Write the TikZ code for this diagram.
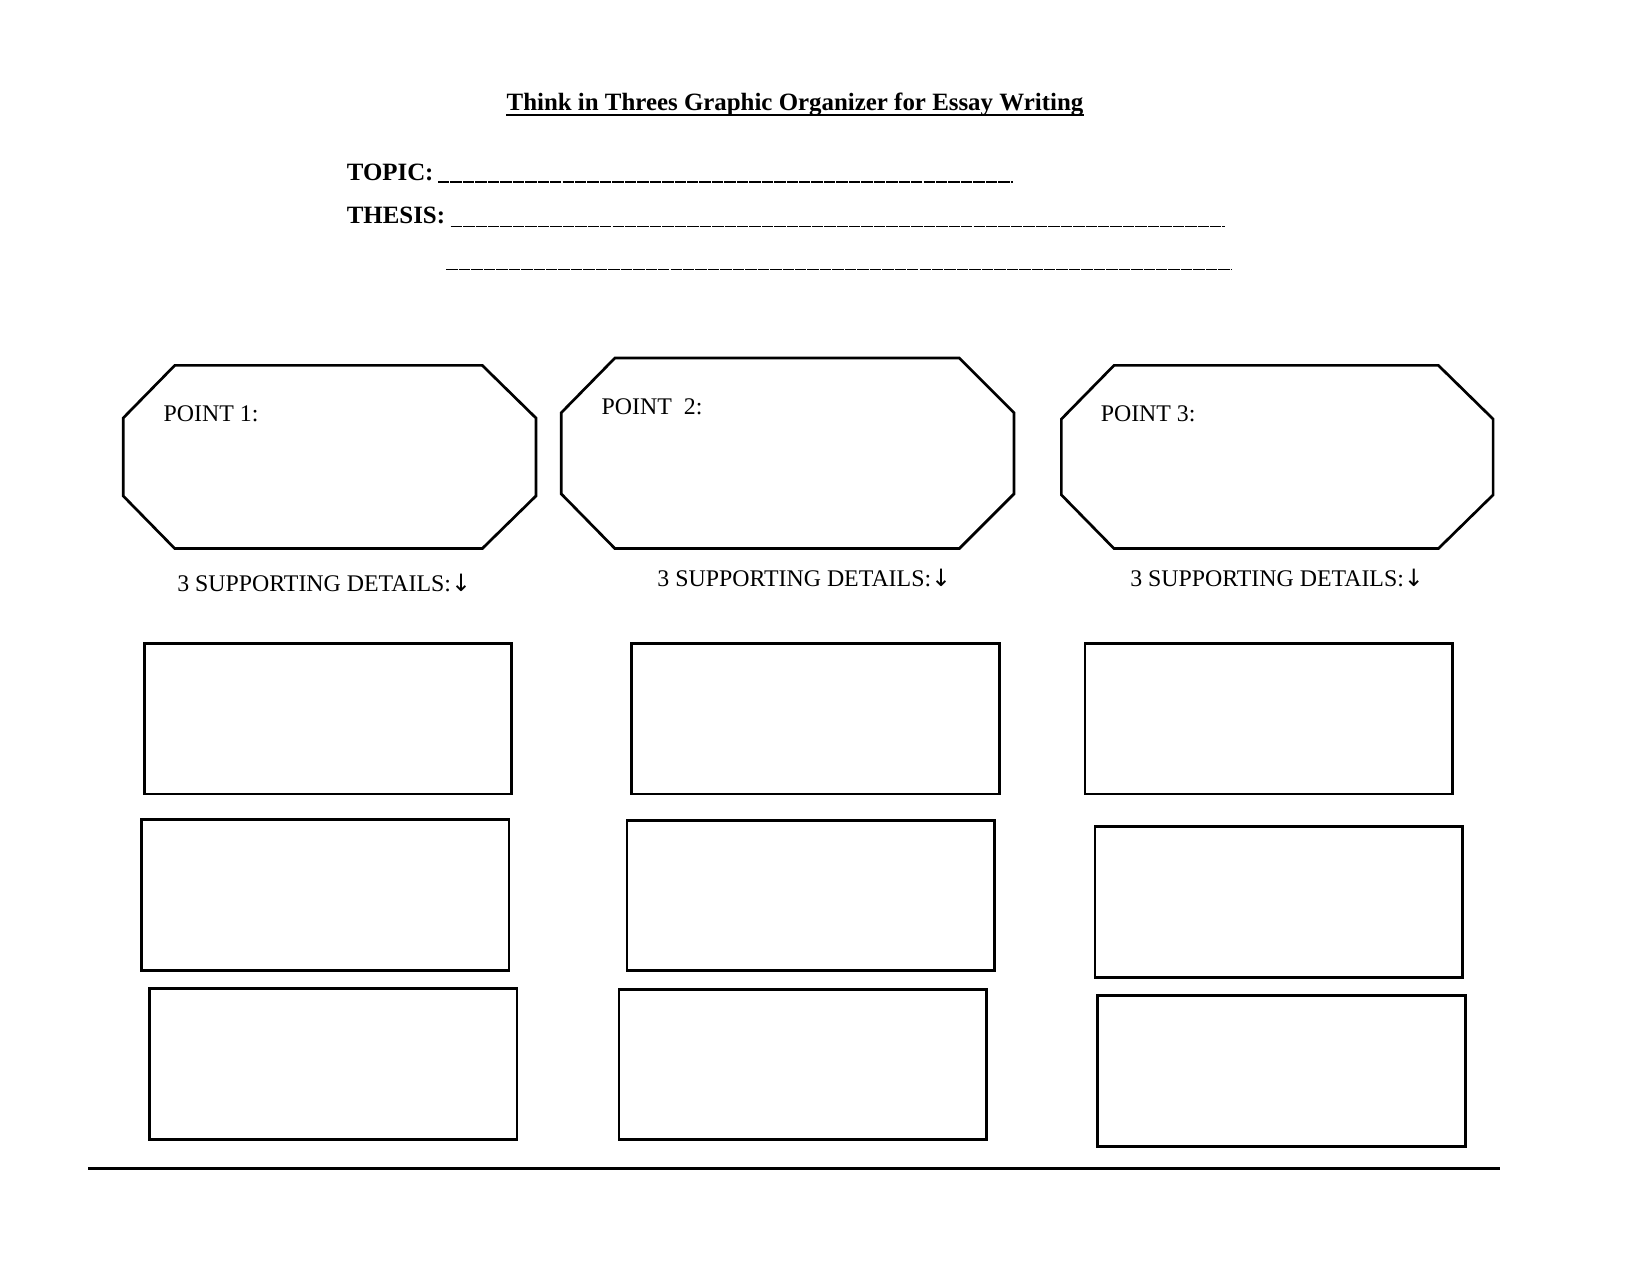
\documentclass[tikz,border=0pt]{standalone}
\usepackage{fontspec}
\setmainfont{Liberation Serif}
\newfontfamily\arrowfont{DejaVu Sans}
\usetikzlibrary{positioning}
%
\newlength\pagepx% ein Bildpunkt der Vorlage
\setlength\pagepx{0.017830cm}
%
\begin{document}
\begin{tikzpicture}[
	x=\pagepx,
	y=-\pagepx,
	auto,
	node distance=20\pagepx,
	headlabel/.style={inner sep=0pt, font=\fontsize{12}{14}\selectfont\bfseries},
	pointlabel/.style={inner sep=0pt, anchor=base west, font=\fontsize{11.5}{14}\selectfont},
	pointbox/.style={draw, line width=1.3pt, line join=miter},
	detailbox/.style={draw, line width=1.3pt, inner sep=0pt, outer sep=0pt,
		minimum width=349\pagepx, minimum height=143\pagepx},
	blankline/.style={line width=0.8pt, dash pattern=on 5.5pt off 0.5pt}
]
\useasboundingbox (0,0) rectangle (1567,1211);
%
% Ueberschrift
\node(title)%
    [headlabel, anchor=base]%
    at (755,105) {Think in Threes Graphic Organizer for Essay Writing};%
\draw[line width=1pt] ([yshift=-2.2pt]title.base west) -- ([yshift=-2.2pt]title.base east);
%
\node(topic)%
    [headlabel, anchor=base west]%
    at (329,171) {TOPIC:};%
\draw[blankline] (416,173) -- (962,173);
\node(thesis)%
    [headlabel, anchor=base west]%
    at (329,212) {THESIS:};%
\draw[blankline] (428,215) -- (1163,215);
\draw[blankline] (424,256) -- (1170,256);
%
% Achtecke
\draw[pointbox] (117,397) -- (166,347) -- (458,347) -- (509,397)
    -- (509,471) -- (458,521) -- (166,521) -- (117,471) -- cycle;
\draw[pointbox] (533,392) -- (584,340) -- (911,340) -- (963,392)
    -- (963,469) -- (911,521) -- (584,521) -- (533,469) -- cycle;
\draw[pointbox] (1008,398) -- (1058,347) -- (1366,347) -- (1418,398)
    -- (1418,470) -- (1366,521) -- (1058,521) -- (1008,470) -- cycle;
%
\node(p_1)%
    [pointlabel]%
    at (155,400) {POINT 1:};%
\node(p_2)%
    [pointlabel]%
    at (571,394) {POINT\ \ 2:};%
\node(p_3)%
    [pointlabel]%
    at (1045,400) {POINT 3:};%
%
\node(s_1)%
    [pointlabel]%
    at (168,562) {3 SUPPORTING DETAILS:{\arrowfont ↓}};%
\node(s_2)%
    [pointlabel]%
    at (624,557) {3 SUPPORTING DETAILS:{\arrowfont ↓}};%
\node(s_3)%
    [pointlabel]%
    at (1073,557) {3 SUPPORTING DETAILS:{\arrowfont ↓}};%
%
% Kaesten fuer die Details
\foreach \name/\x/\y in {d_11/311.5/682.5, d_21/774.5/682.5, d_31/1205/682.5,
    d_12/309/850, d_22/770/850.5, d_32/1214.5/856.5,
    d_13/316.5/1010.5, d_23/762.5/1011, d_33/1217/1017}
    \node(\name)[detailbox] at (\x,\y) {};
%
\draw[line width=1.5pt] (84,1110) -- (1425,1110);
%
\end{tikzpicture}
\end{document}
